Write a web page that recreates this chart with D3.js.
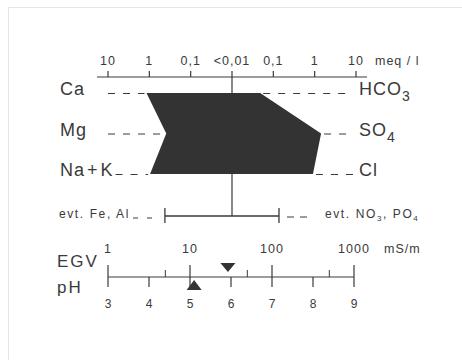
<!DOCTYPE html>
<html>
<head>
<meta charset="utf-8">
<script src="https://cdn.jsdelivr.net/npm/d3@7"></script>
<style>
  html, body { margin: 0; padding: 0; background: #fff; }
  svg text { font-family: "Liberation Sans", Arial, Helvetica, sans-serif; fill: #3a3a3a; }
</style>
</head>
<body>
<svg id="chart" width="462" height="360"></svg>
<script>
// --- data (meq/l) ---------------------------------------------------------
const cations = ['Ca', 'Mg', 'Na+K'];
const cationValues = [1.17, 0.39, 0.96];
const anions = ['HCO3', 'SO4', 'Cl'];
const anionValues = [0.048, 1.43, 0.91];

// extra ions (Fe, Al on the left, NO3, PO4 on the right)
const extraValues = [0.42, 0.137];

// meq/l ticks, one side each
const meqTicks = [10, 1, 0.1];
const meqTickLabels = ['10', '1', '0,1'];

// EGV (mS/m) and pH
const egvTicks = [1, 10, 100, 1000];
const egvMinorTicks = [5, 50, 500];
const phTicks = [3, 4, 5, 6, 7, 8, 9];
const egvValue = 29;
const phValue = 5.1;

// --- layout ---------------------------------------------------------------
const INK = '#3a3a3a';
const CENTER = 232;
const AXIS_Y = 77;
const EXTRA_Y = 216;
const EGV_Y = 277;
const DASH = '7,8';

const svg = d3.select('#chart');

// faint scan border
svg.append('rect')
  .attr('x', 8.5).attr('y', 7.5)
  .attr('width', 460).attr('height', 360)
  .attr('fill', 'none')
  .attr('stroke', '#e6e6e6');

const leftX = d3.scaleLog().domain([0.01, 10]).range([CENTER, CENTER - 124]);
const rightX = d3.scaleLog().domain([0.01, 10]).range([CENTER, CENTER + 124]);
const rowY = d3.scalePoint().domain(d3.range(cations.length)).range([93, 174]);

const g = svg.append('g');

// top meq axis
g.append('line')
  .attr('x1', leftX(10) - 11).attr('x2', rightX(10) + 11)
  .attr('y1', AXIS_Y).attr('y2', AXIS_Y)
  .attr('stroke', INK).attr('stroke-width', 1.2);

[leftX, rightX].forEach(scale => {
  g.selectAll(null)
    .data(meqTicks)
    .enter()
    .append('line')
      .attr('x1', d => scale(d)).attr('x2', d => scale(d))
      .attr('y1', AXIS_Y - 6).attr('y2', AXIS_Y)
      .attr('stroke', INK).attr('stroke-width', 1.2);

  g.selectAll(null)
    .data(meqTicks)
    .enter()
    .append('text')
      .attr('x', d => scale(d))
      .attr('y', AXIS_Y - 12)
      .attr('text-anchor', 'middle')
      .style('font-size', '12.5px')
      .style('letter-spacing', '1px')
      .text((d, i) => meqTickLabels[i]);
});

g.append('text')
  .attr('x', CENTER).attr('y', AXIS_Y - 12)
  .attr('text-anchor', 'middle')
  .style('font-size', '12.5px')
  .style('letter-spacing', '1px')
  .text('<0,01');

g.append('text')
  .attr('x', rightX(10) + 19).attr('y', AXIS_Y - 12)
  .style('font-size', '12.5px')
  .style('letter-spacing', '1px')
  .text('meq / l');

// the stiff polygon
const pts = [];
cationValues.forEach((v, i) => pts.push([leftX(v), rowY(i)]));
anionValues.slice().reverse().forEach((v, i) => pts.push([rightX(v), rowY(anions.length - 1 - i)]));

// center line (from above the axis down to the extra-ion bar)
g.append('line')
  .attr('x1', CENTER).attr('x2', CENTER)
  .attr('y1', AXIS_Y - 6).attr('y2', EXTRA_Y)
  .attr('stroke', INK).attr('stroke-width', 1.2);

g.append('path')
  .attr('d', d3.line()(pts) + 'Z')
  .attr('fill', '#333');

// labels + dashed leaders
const bigLabel = sel => sel
  .style('font-size', '18px')
  .style('letter-spacing', '1px');

cations.forEach((name, i) => {
  const y = rowY(i);
  const t = g.append('text')
    .attr('x', 60).attr('y', y + 2)
    .call(bigLabel);
  // a little air around the plus sign, as in the print
  name.split('+').forEach((part, j) => {
    if (j > 0) t.append('tspan').attr('dx', 2).text('+');
    t.append('tspan').attr('dx', j > 0 ? 2 : 0).text(part);
  });
  const end = t.node().getComputedTextLength() + 60 + (name.includes('+') ? 4 : 0);
  g.append('line')
    .attr('x1', Math.max(end + 2, 108)).attr('x2', leftX(cationValues[i]) - 2)
    .attr('y1', y + 0.5).attr('y2', y + 0.5)
    .attr('stroke', INK).attr('stroke-width', 1)
    .attr('stroke-dasharray', DASH);
});

anions.forEach((name, i) => {
  const y = rowY(i);
  g.append('line')
    .attr('x1', rightX(anionValues[i]) + 3).attr('x2', 353)
    .attr('y1', y + 0.5).attr('y2', y + 0.5)
    .attr('stroke', INK).attr('stroke-width', 1)
    .attr('stroke-dasharray', DASH);

  const t = g.append('text')
    .attr('x', 359).attr('y', y + 2)
    .call(bigLabel);
  const sub = name.match(/^(.*?)(\d)$/);
  if (sub) {
    t.append('tspan').text(sub[1]);
    t.append('tspan')
      .attr('dy', 6)
      .style('font-size', '14px')
      .text(sub[2]);
  } else {
    t.text(name);
  }
});

// extra ions bar
const exL = leftX(extraValues[0]);
const exR = rightX(extraValues[1]);
g.append('line')
  .attr('x1', exL).attr('x2', exR)
  .attr('y1', EXTRA_Y).attr('y2', EXTRA_Y)
  .attr('stroke', INK).attr('stroke-width', 1.3);
[exL, exR].forEach(x => {
  g.append('line')
    .attr('x1', x).attr('x2', x)
    .attr('y1', EXTRA_Y - 8).attr('y2', EXTRA_Y + 7)
    .attr('stroke', INK).attr('stroke-width', 1.3);
});

const smallLabel = sel => sel
  .style('font-size', '12px')
  .style('letter-spacing', '1.6px');

g.append('text')
  .attr('x', 59).attr('y', EXTRA_Y + 2)
  .call(smallLabel)
  .text('evt. Fe, Al');
g.append('line')
  .attr('x1', 133).attr('x2', exL - 4)
  .attr('y1', EXTRA_Y + 2).attr('y2', EXTRA_Y + 2)
  .attr('stroke', INK).attr('stroke-width', 1)
  .attr('stroke-dasharray', '5,9');

g.append('line')
  .attr('x1', exR + 8).attr('x2', exR + 34)
  .attr('y1', EXTRA_Y + 1).attr('y2', EXTRA_Y + 1)
  .attr('stroke', INK).attr('stroke-width', 1)
  .attr('stroke-dasharray', '7,6');

const no3 = g.append('text')
  .attr('x', exR + 46).attr('y', EXTRA_Y + 2)
  .call(smallLabel);
no3.append('tspan').text('evt. NO');
no3.append('tspan').attr('dy', 3).style('font-size', '8px').text('3');
no3.append('tspan').attr('dy', -3).text(',   PO');
no3.append('tspan').attr('dy', 3).style('font-size', '8px').text('4');

// EGV / pH axis
const phX = d3.scaleLinear().domain([3, 9]).range([108, 354]);
const egvX = d3.scaleLog().domain([1, 1000]).range([108, 354]);

g.append('line')
  .attr('x1', phX(3)).attr('x2', phX(9))
  .attr('y1', EGV_Y).attr('y2', EGV_Y)
  .attr('stroke', INK).attr('stroke-width', 1.2);

g.selectAll(null)
  .data(egvTicks)
  .enter()
  .append('line')
    .attr('x1', d => egvX(d)).attr('x2', d => egvX(d))
    .attr('y1', EGV_Y - 12).attr('y2', EGV_Y)
    .attr('stroke', INK).attr('stroke-width', 1.2);

g.selectAll(null)
  .data(egvMinorTicks)
  .enter()
  .append('line')
    .attr('x1', d => egvX(d)).attr('x2', d => egvX(d))
    .attr('y1', EGV_Y - 7).attr('y2', EGV_Y)
    .attr('stroke', INK).attr('stroke-width', 1);

g.selectAll(null)
  .data(phTicks)
  .enter()
  .append('line')
    .attr('x1', d => phX(d)).attr('x2', d => phX(d))
    .attr('y1', EGV_Y).attr('y2', EGV_Y + 10)
    .attr('stroke', INK).attr('stroke-width', 1.2);

g.selectAll(null)
  .data(egvTicks)
  .enter()
  .append('text')
    .attr('x', d => egvX(d))
    .attr('y', EGV_Y - 24)
    .attr('text-anchor', 'middle')
    .style('font-size', '12.5px')
    .style('letter-spacing', '1px')
    .text(d => d);

g.append('text')
  .attr('x', egvX(1000) + 30).attr('y', EGV_Y - 24)
  .style('font-size', '12.5px')
  .style('letter-spacing', '1px')
  .text('mS/m');

g.selectAll(null)
  .data(phTicks)
  .enter()
  .append('text')
    .attr('x', d => phX(d))
    .attr('y', EGV_Y + 31)
    .attr('text-anchor', 'middle')
    .style('font-size', '12px')
    .text(d => d);

g.append('text')
  .attr('x', 57).attr('y', EGV_Y - 10)
  .style('font-size', '17px')
  .style('letter-spacing', '2px')
  .text('EGV');
g.append('text')
  .attr('x', 57).attr('y', EGV_Y + 16)
  .style('font-size', '17px')
  .style('letter-spacing', '2px')
  .text('pH');

// markers
const ex = egvX(egvValue);
g.append('path')
  .attr('d', d3.line()([[ex - 7.5, EGV_Y - 14], [ex + 7.5, EGV_Y - 14], [ex, EGV_Y - 5]]) + 'Z')
  .attr('fill', '#333');
const px = phX(phValue);
g.append('path')
  .attr('d', d3.line()([[px - 7.5, EGV_Y + 13], [px + 7.5, EGV_Y + 13], [px, EGV_Y + 3]]) + 'Z')
  .attr('fill', '#333');
</script>
</body>
</html>
